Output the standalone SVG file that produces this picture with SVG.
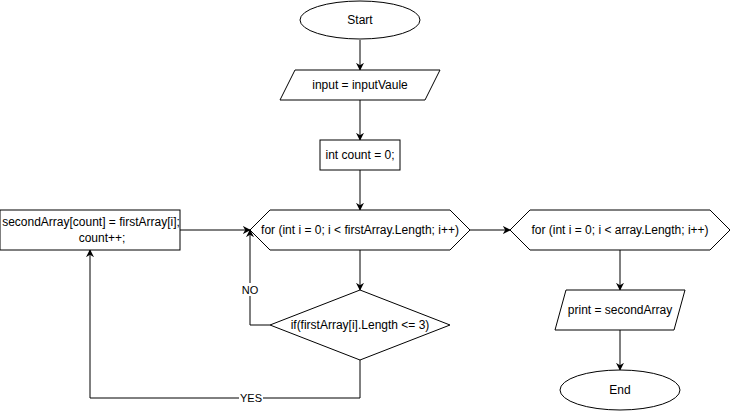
<svg xmlns="http://www.w3.org/2000/svg" width="731" height="412" viewBox="0 0 731 412">
<style>
.s{fill:#fff;stroke:#000;stroke-width:1}
.t{font-family:"Liberation Sans",Arial,sans-serif;font-size:12px;fill:#000;text-anchor:middle;dominant-baseline:central}
.c{fill:none;stroke:#000;stroke-width:1}
.l{font-family:"Liberation Sans",Arial,sans-serif;font-size:11px;fill:#000;text-anchor:middle;dominant-baseline:central}
</style>
<defs>
<marker id="a" viewBox="0 0 10 10" refX="9" refY="5" markerWidth="8" markerHeight="8" markerUnits="userSpaceOnUse" orient="auto">
<path d="M0,0 L10,5 L0,10 L3,5 Z" fill="#000"/>
</marker>
</defs>
<rect width="731" height="412" fill="#fff"/>
<g id="connectors">
<path class="c" d="M360,40 V70" marker-end="url(#a)"/>
<path class="c" d="M360,100 V140" marker-end="url(#a)"/>
<path class="c" d="M360,170 V210" marker-end="url(#a)"/>
<path class="c" d="M470,230 H510" marker-end="url(#a)"/>
<path class="c" d="M360,250 V290" marker-end="url(#a)"/>
<path class="c" d="M270,325 H250 V230" marker-end="url(#a)"/>
<path class="c" d="M360,360 V398 H90 V250" marker-end="url(#a)"/>
<path class="c" d="M180,230 H250" marker-end="url(#a)"/>
<path class="c" d="M620,250 V290" marker-end="url(#a)"/>
<path class="c" d="M620,330 V370" marker-end="url(#a)"/>
<rect x="241" y="283" width="19" height="13" fill="#fff"/>
<text class="l" x="250" y="290">NO</text>
<rect x="239" y="392" width="24" height="13" fill="#fff"/>
<text class="l" x="251" y="398">YES</text>
</g>
<g id="start">
<ellipse class="s" cx="360" cy="20" rx="60" ry="19"/>
<text class="t" x="360" y="20">Start</text>
</g>
<g id="input">
<polygon class="s" points="295,70 440,70 425,100 280,100"/>
<text class="t" x="360" y="85">input = inputVaule</text>
</g>
<g id="count">
<rect class="s" x="320" y="140" width="80" height="30"/>
<text class="t" x="360" y="155">int count = 0;</text>
</g>
<g id="loop1">
<polygon class="s" points="250,230 270,210 450,210 470,230 450,250 270,250"/>
<text class="t" x="360" y="230">for (int i = 0; i &lt; firstArray.Length; i++)</text>
</g>
<g id="cond">
<polygon class="s" points="360,290 450,325 360,360 270,325"/>
<text class="t" x="360" y="325">if(firstArray[i].Length &lt;= 3)</text>
</g>
<g id="assign">
<rect class="s" x="0" y="210" width="180" height="40"/>
<text class="t" x="91" y="222">secondArray[count] = firstArray[i];</text>
<text class="t" x="102" y="238">count++;</text>
</g>
<g id="loop2">
<polygon class="s" points="510,230 530,210 710,210 730,230 710,250 530,250"/>
<text class="t" x="620" y="230">for (int i = 0; i &lt; array.Length; i++)</text>
</g>
<g id="print">
<polygon class="s" points="566,290 685,290 674,330 555,330"/>
<text class="t" x="620" y="310">print = secondArray</text>
</g>
<g id="end">
<ellipse class="s" cx="620" cy="390" rx="60" ry="20"/>
<text class="t" x="620" y="390">End</text>
</g>
</svg>
